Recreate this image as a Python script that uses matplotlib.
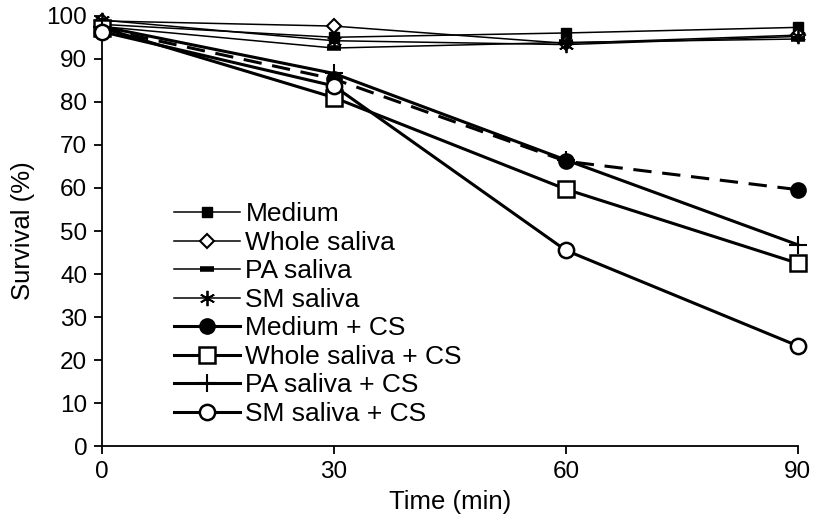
import matplotlib.pyplot as plt

plt.rcParams['font.family'] = ['Liberation Sans', 'DejaVu Sans']

# Time points and survival values
time_min = [0, 30, 60, 90]

medium = [98, 95, 96, 97.3]
whole_saliva = [98.8, 97.6, 93.6, 95.5]
pa_saliva = [97.5, 92.5, 93.8, 94.6]
sm_saliva = [99, 94.2, 93.3, 95.2]

medium_cs = [97, 85.3, 66.2, 59.6]
whole_saliva_cs = [97.2, 81, 59.7, 42.5]
pa_saliva_cs = [97.5, 86.6, 66.5, 46.8]
sm_saliva_cs = [96.3, 83.7, 45.5, 23.3]

y_ticks = list(range(0, 101, 10))
x_ticks = [0, 30, 60, 90]

fig = plt.figure(figsize=(8.15, 5.25), dpi=100)
ax = fig.add_axes([0.125, 0.15, 0.854, 0.82])

thin = dict(color='black', lw=1.1, clip_on=False, zorder=3)
thick = dict(color='black', lw=2.2, clip_on=False, zorder=3)

ax.plot(time_min, medium, marker='s', ms=7, label='Medium', **thin)
ax.plot(time_min, whole_saliva, marker='D', ms=7, mfc='white', mew=1.5,
        label='Whole saliva', **thin)
ax.plot(time_min, pa_saliva, marker='_', ms=10, mew=4, label='PA saliva', **thin)
ax.plot(time_min, sm_saliva, marker=(6, 2, 0), ms=11, mew=1.3,
        label='SM saliva', **thin)

ax.plot(time_min, medium_cs, marker='o', ms=11, ls=(0, (6, 3.5)),
        label='Medium + CS', **thick)
ax.plot(time_min, whole_saliva_cs, marker='s', ms=11, mfc='white', mew=1.8,
        label='Whole saliva + CS', **thick)
ax.plot(time_min, pa_saliva_cs, marker='+', ms=13, mew=1.5,
        label='PA saliva + CS', **thick)
ax.plot(time_min, sm_saliva_cs, marker='o', ms=11, mfc='white', mew=1.8,
        label='SM saliva + CS', **thick)

ax.set_xlim(0, 90)
ax.set_ylim(0, 100)
ax.set_xticks(x_ticks)
ax.set_yticks(y_ticks)
ax.tick_params(labelsize=17.5, length=5.5, width=1.3, direction='out', pad=5)

for side in ['top', 'right']:
    ax.spines[side].set_visible(False)
for side in ['left', 'bottom']:
    ax.spines[side].set_linewidth(1.3)

ax.set_xlabel('Time (min)', fontsize=18.5, labelpad=5)
ax.set_ylabel('Survival (%)', fontsize=18.5, labelpad=8)

leg = ax.legend(loc='upper left', bbox_to_anchor=(0.085, 0.597), frameon=False,
                fontsize=19, handlelength=2.5, handletextpad=0.2,
                labelspacing=0.17, borderpad=0)
# legend shows a solid line for Medium + CS
leg.get_lines()[4].set_linestyle('-')

fig.savefig('out.png', dpi=100)
